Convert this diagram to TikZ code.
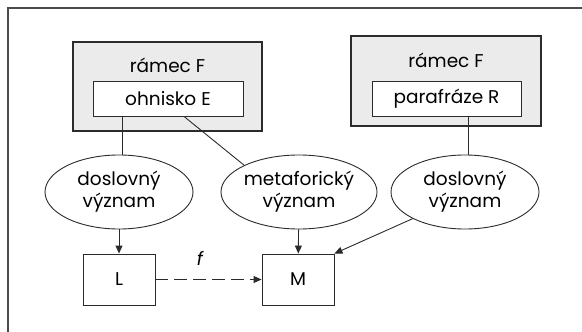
\documentclass[tikz,border=0pt]{standalone}
\usepackage{fontspec}
\setmainfont{Poppins}
\usetikzlibrary{shapes.geometric, arrows.meta, positioning}
\definecolor{framegray}{HTML}{EBEBEB}
\definecolor{linegray}{HTML}{2B2B2B}

\begin{document}
\begin{tikzpicture}[x=1pt, y=-1pt, font=\fontsize{18.5}{22}\selectfont]
        \tikzstyle{framebox} = [rectangle, draw=linegray, line width=1.1pt, fill=framegray]
        \tikzstyle{slot} = [rectangle, draw=linegray, line width=0.9pt, fill=white, minimum width=150pt, minimum height=35pt]
        \tikzstyle{meaning} = [ellipse, draw=linegray, line width=0.9pt, minimum width=148pt, minimum height=74pt, inner sep=0pt, align=center]
        \tikzstyle{areabox} = [rectangle, draw=linegray, line width=0.9pt, minimum width=72pt, minimum height=51pt]
        \tikzstyle{link} = [draw=linegray, line width=0.9pt]
        \tikzstyle{arrow} = [link, -{Triangle[length=8pt,width=7pt]}]

        \path[use as bounding box, clip] (0,0) rectangle (582,332);
        \draw[draw=linegray!85, line width=2pt] (8,8) rectangle (600,350);

        % Frames
        \node (frameE) [framebox, minimum width=189pt, minimum height=89pt] at (167.5,86.5) {};
        \node (frameR) [framebox, minimum width=190pt, minimum height=90pt] at (446,81) {};
        \node (titleE) at ([yshift=-24pt]frameE.north) {rámec F};
        \node (titleR) at ([yshift=-25pt]frameR.north) {rámec F};
        \node (focus) [slot] at (168,98.5) {ohnisko E};
        \node (paraphrase) [slot, minimum width=149pt] at (446.5,98.5) {parafráze R};

        % Meanings
        \node (literalE) [meaning] at (119,192) {doslovný\\význam};
        \node (figurative) [meaning, minimum width=147pt] at (299,192) {metaforický\\význam};
        \node (literalR) [meaning] at (465,192) {doslovný\\význam};

        % Domains
        \node (litdomain) [areabox] at (119,279.5) {L};
        \node (metdomain) [areabox] at (298,279.5) {M};

        % Links
        \draw [link] ([xshift=3pt]focus.south -| literalE.north) -- ([xshift=3pt]literalE.north);
        \draw [link] ([xshift=16pt]focus.south) -- (figurative.154);
        \draw [link] ([xshift=3pt]paraphrase.south -| literalR.north) -- ([xshift=3pt]literalR.north);

        % Arrows
        \draw [arrow] (literalE) -- (litdomain);
        \draw [arrow] (figurative) -- (metdomain);
        \draw [arrow] (literalR.207) -- (metdomain.north east);
        \draw [arrow, dash pattern=on 13pt off 6pt] (litdomain) -- node[above=10pt, pos=0.42] {\itshape f} (metdomain);

    \end{tikzpicture}
\end{document}
